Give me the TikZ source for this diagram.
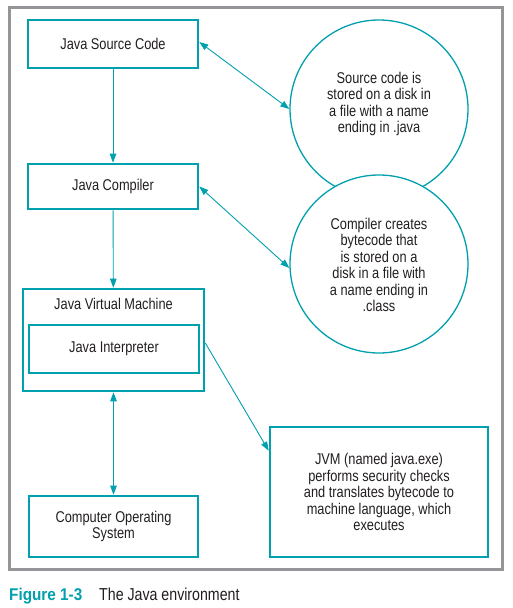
\documentclass[tikz,border=0pt]{standalone}
\usepackage{fontspec}
\setmainfont{Liberation Sans}[FakeStretch=0.82]
\newfontfamily\capbold{Liberation Sans}[FakeStretch=0.9,UprightFont=*-Bold]
\usetikzlibrary{arrows.meta,calc}
\definecolor{teal}{HTML}{00A0AF}
\definecolor{framegray}{HTML}{939598}
\definecolor{ink}{HTML}{231F20}
\tikzset{
  txt/.style={align=center,text=ink,inner sep=0pt,font=\fontsize{15.6}{16.5}\selectfont},
  box/.style={txt,draw=teal,line width=2.6pt,rectangle},
  bubble/.style={draw=teal,fill=white,line width=1.3pt,circle,inner sep=0pt,minimum size=178pt},
  conn/.style={draw=teal,line width=0.9pt,-{Triangle[length=9pt,width=6.5pt]}},
  dconn/.style={draw=teal,line width=0.9pt,{Triangle[length=9pt,width=6.5pt]}-{Triangle[length=9pt,width=6.5pt]}}
}
\begin{document}
\begin{tikzpicture}[x=1pt,y=-1pt]
\useasboundingbox (0,0) rectangle (513,608);
\fill[white] (0,0) rectangle (513,608);
\draw[framegray,line width=3pt] (9,7) rectangle (502,569);
\node[box,minimum width=170pt,minimum height=48pt] (src) at (113,44) {Java Source Code};
\node[box,minimum width=170pt,minimum height=45pt] (cmp) at (113,186.5) {Java Compiler};
\node[box,minimum width=181pt,minimum height=102pt] (jvm) at (113.5,340) {};
\node[txt] (jvml) at (113.5,304) {Java Virtual Machine};
\node[box,minimum width=170pt,minimum height=48pt] (int) at (114,349) {Java Interpreter};
\node[box,minimum width=169pt,minimum height=61pt] (os) at (113.5,526.5) {Computer Operating\\System};
\node[bubble] (c1) at (379,109) {};
\node[txt] (c1t) at (379,104) {Source code is\\stored on a disk in\\a file with a name\\ending in .java};
\node[bubble] (c2) at (379,264) {};
\node[txt] (c2t) at (379,265) {Compiler creates\\bytecode that\\is stored on a\\disk in a file with\\a name ending in\\.class};
\node[box,minimum width=218pt,minimum height=130pt] (tb) at (379,492) {JVM (named java.exe)\\performs security checks\\and translates bytecode to\\machine language, which\\executes};
\coordinate (tbin) at ([yshift=-25pt]tb.north west);
\draw[conn] (src) -- (cmp);
\draw[conn] (cmp) -- (jvm);
\draw[dconn] (jvm) -- (os);
\draw[dconn] ([yshift=2pt]src.east) -- (c1.west);
\draw[dconn] (cmp.east) -- ([yshift=-4pt]c2.west);
\draw[conn] ([yshift=-3pt]jvm.east) -- (tbin);
\node[anchor=base west,inner sep=0pt,font=\fontsize{17}{18}\capbold,text=teal] (fig) at (9,600) {Figure 1-3};
\node[anchor=base west,inner sep=0pt,font=\fontsize{17.3}{18}\selectfont,text=ink] (cap) at (99,600) {The Java environment};
\end{tikzpicture}
\end{document}
